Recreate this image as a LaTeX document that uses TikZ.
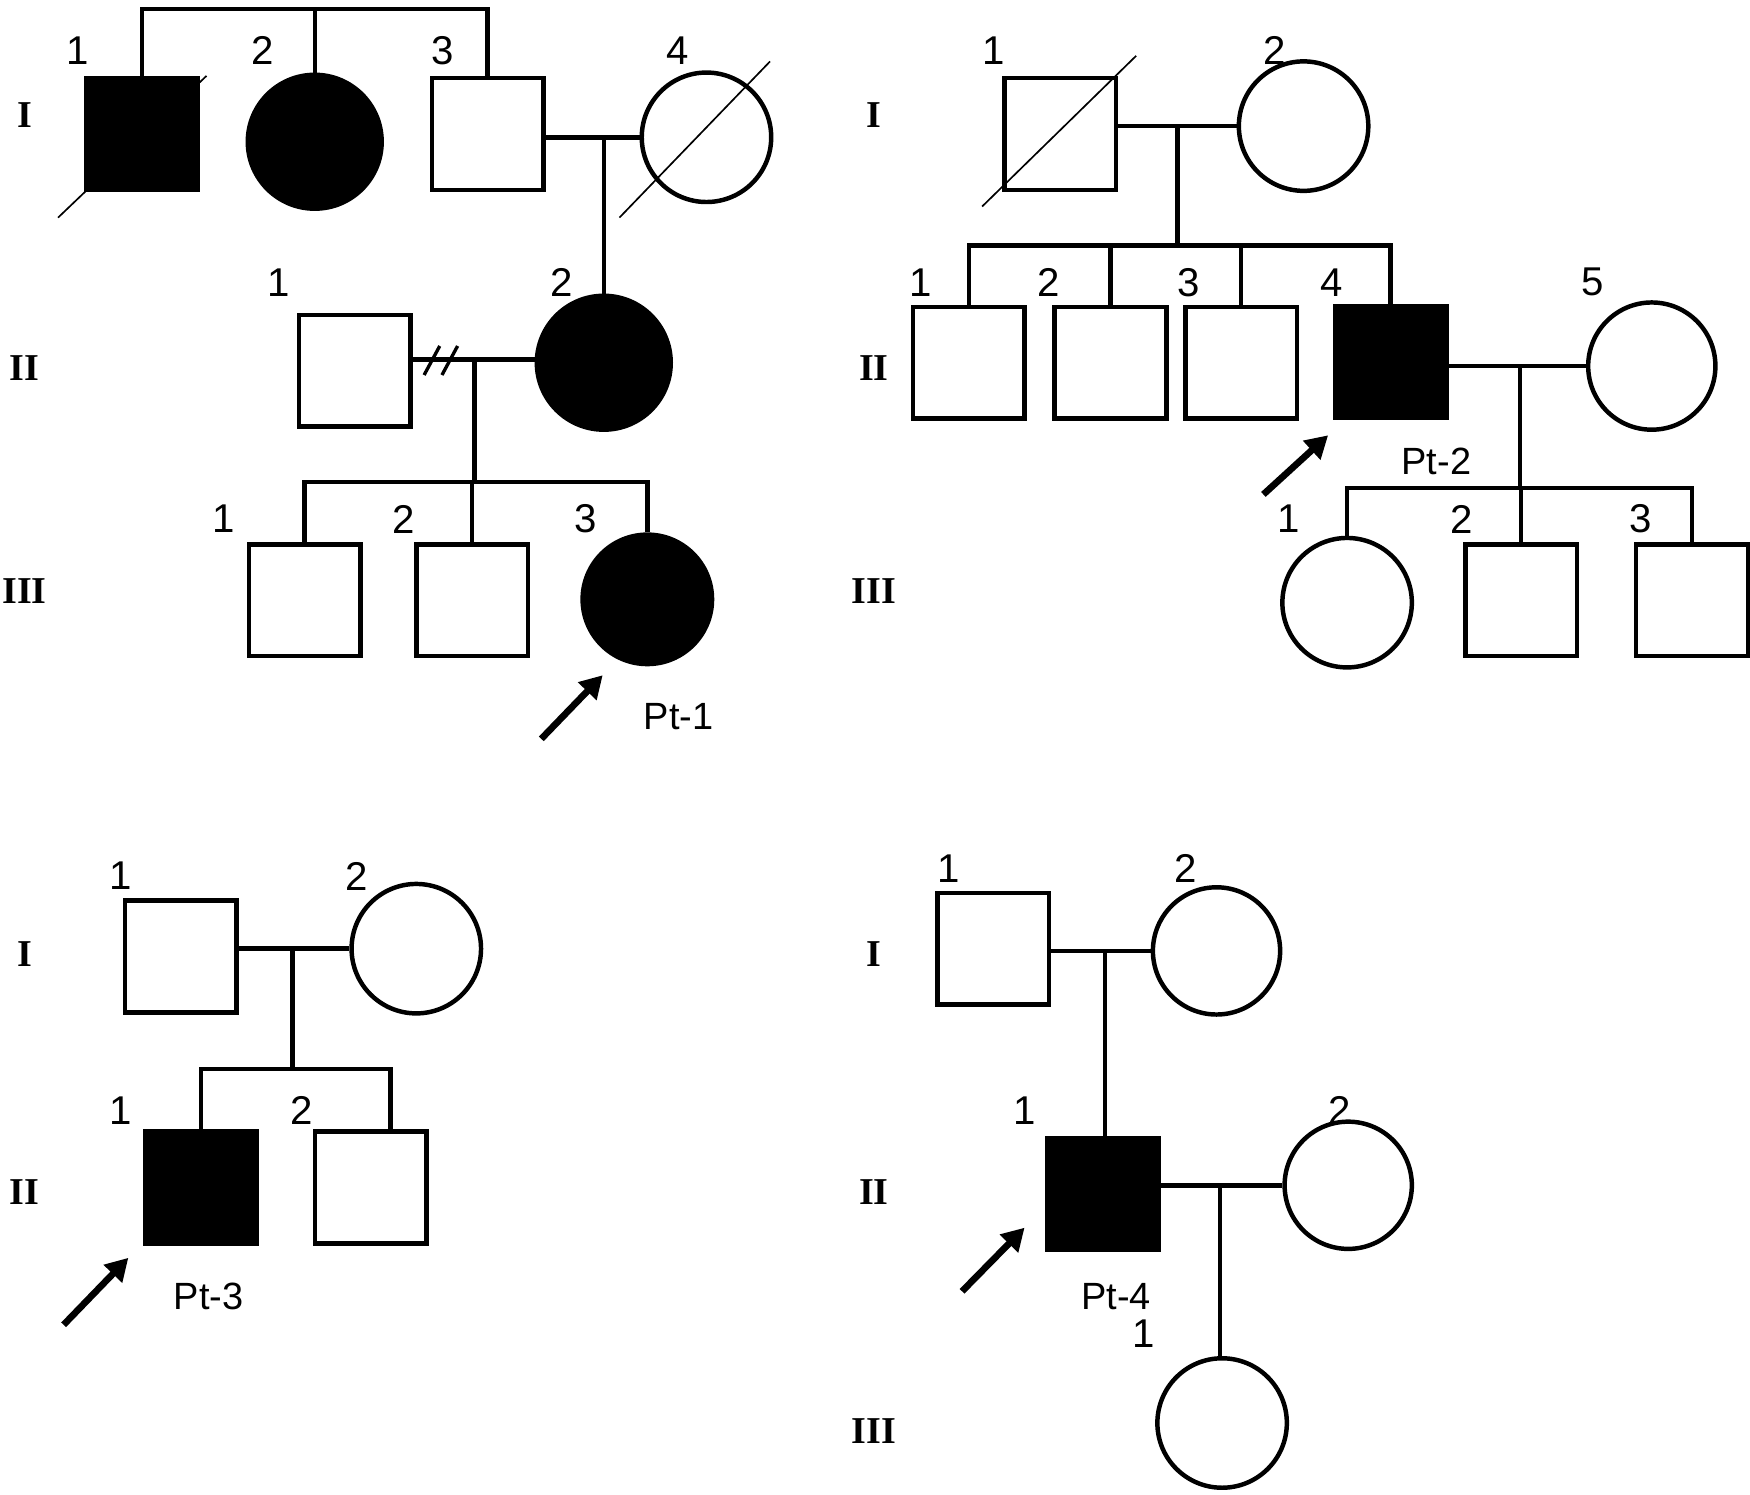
\documentclass[tikz,border=0pt]{standalone}
\usepackage{fontspec}
\setmainfont{Liberation Sans}
\newfontfamily\genfont{Liberation Serif}
\usetikzlibrary{arrows.meta}
\tikzset{
  sq/.style={draw,line width=4pt,rectangle,minimum size=100pt,inner sep=0pt,fill=white},
  ci/.style={draw,line width=4pt,circle,minimum size=#1,inner sep=0pt,fill=white},
  aff/.style={fill=black},
  ln/.style={line width=4pt},
  num/.style={font=\fontsize{36}{38}\selectfont,inner sep=0pt},
  pt/.style={font=\fontsize{34}{36}\selectfont,inner sep=0pt},
  gen/.style={font=\genfont\bfseries\fontsize{34}{36}\selectfont,inner sep=0pt},
  parrow/.style={line width=6pt,-{Triangle[length=20pt,width=22pt]}},
  slash/.style={line width=1.5pt}
}
\begin{document}
\begin{tikzpicture}[x=1pt,y=-1pt]
\useasboundingbox (0,0) rectangle (1568,1339);
% ===== Pedigree 1 =====
\node[sq,aff] (a11) at (127,120) {};
\node[ci=120pt,aff] (a12) at (282,127) {};
\node[sq] (a13) at (437,120) {};
\node[ci=116pt] (a14) at (633,123) {};
\coordinate (t1) at (282,8);
\draw[ln] (a11.north) |- (t1) -| (a13.north);
\draw[ln] (t1) -- (a12.north);
\draw[slash] (52,195) -- (185,68);
\draw[slash] (555,195) -- (690,55);
\draw[ln] (a13.east|-a14) -- (a14.west);
\node[sq] (a21) at (318,332) {};
\node[ci=120pt,aff] (a22) at (541,325) {};
\coordinate (m1) at (541,123);
\draw[ln] (m1) -- (a22.north);
\draw[ln] (a21.east|-0,322) -- (a22.west|-0,322);
\draw[line width=3pt] (380,336) -- (394,310) (396,336) -- (410,310);
\coordinate (m2) at (425,322);
\node[sq] (a31) at (273,538) {};
\node[sq] (a32) at (423,538) {};
\node[ci=116pt,aff] (a33) at (580,537) {};
\coordinate (s2) at (425,432);
\draw[ln] (m2) -- (s2);
\draw[ln] (a31.north) |- (s2) -| (a33.north);
\draw[ln] (a32.north) -- (a32.north|-s2);
\draw[parrow] (485,662) -- (540,605);
\node[pt] at (608,642) {Pt-1};
\node[num] at (70,45) {1}; \node[num] at (235,45) {2}; \node[num] at (397,45) {3}; \node[num] at (607,45) {4};
\node[num] at (250,253) {1}; \node[num] at (503,253) {2};
\node[num] at (200,465) {1}; \node[num] at (362,465) {2}; \node[num] at (525,465) {3};
\node[gen] at (22,103) {I}; \node[gen] at (22,330) {II}; \node[gen] at (22,530) {III};
% ===== Pedigree 2 =====
\node[sq] (b11) at (950,120) {};
\node[ci=116pt] (b12) at (1168,113) {};
\draw[slash] (880,185) -- (1018,50);
\draw[ln] (b11.east|-b12) -- (b12.west);
\coordinate (bm1) at (1055,113);
\coordinate (bs1) at (1055,220);
\draw[ln] (bm1) -- (bs1);
\node[sq] (b21) at (868,325) {};
\node[sq] (b22) at (995,325) {};
\node[sq] (b23) at (1112,325) {};
\node[sq,aff] (b24) at (1246,324) {};
\node[ci=114pt] (b25) at (1480,328) {};
\draw[ln] (b21.north) |- (bs1) -| (b24.north);
\draw[ln] (b22.north) -- (b22.north|-bs1);
\draw[ln] (b23.north) -- (b23.north|-bs1);
\draw[ln] (b24.east|-b25) -- (b25.west);
\coordinate (bm2) at (1362,328);
\coordinate (bs2) at (1362,437);
\draw[ln] (bm2) -- (bs2);
\node[ci=116pt] (b31) at (1207,540) {};
\node[sq] (b32) at (1363,538) {};
\node[sq] (b33) at (1516,538) {};
\draw[ln] (b31.north) |- (bs2) -| (b33.north);
\draw[ln] (b32.north) -- (b32.north|-bs2);
\draw[parrow] (1132,443) -- (1190,390);
\node[pt] at (1287,413) {Pt-2};
\node[num] at (890,45) {1}; \node[num] at (1142,45) {2};
\node[num] at (825,253) {1}; \node[num] at (940,253) {2}; \node[num] at (1065,253) {3}; \node[num] at (1193,253) {4}; \node[num] at (1427,253) {5};
\node[num] at (1155,465) {1}; \node[num] at (1310,465) {2}; \node[num] at (1470,465) {3};
\node[gen] at (783,103) {I}; \node[gen] at (783,330) {II}; \node[gen] at (783,530) {III};
% ===== Pedigree 3 =====
\node[sq] (c11) at (162,857) {};
\node[ci=116pt] (c12) at (373,850) {};
\draw[ln] (c11.east|-c12) -- (c12.west);
\coordinate (cm1) at (262,850);
\coordinate (cs1) at (262,958);
\draw[ln] (cm1) -- (cs1);
\node[sq,aff] (c21) at (180,1064) {};
\node[sq] (c22) at (332,1064) {};
\coordinate (cd2) at (350,958);
\draw[ln] (c21.north) |- (cs1) -- (cd2) -- (cd2|-c22.north);
\draw[parrow] (57,1187) -- (115,1127);
\node[pt] at (187,1162) {Pt-3};
\node[num] at (108,785) {1}; \node[num] at (320,785) {2};
\node[num] at (108,995) {1}; \node[num] at (270,995) {2};
\node[gen] at (22,855) {I}; \node[gen] at (22,1068) {II};
% ===== Pedigree 4 =====
\node[sq] (d11) at (890,850) {};
\node[ci=114pt] (d12) at (1090,852) {};
\draw[ln] (d11.east|-d12) -- (d12.west);
\node[sq,aff] (d21) at (988,1070) {};
\node[ci=114pt] (d22) at (1208,1062) {};
\coordinate (dm1) at (990,852);
\draw[ln] (dm1) -- (dm1|-d21.north);
\draw[ln] (d21.east|-d22) -- (d22.west);
\node[ci=116pt] (d31) at (1095,1275) {};
\coordinate (dm2) at (1093,1062);
\draw[ln] (dm2) -- (dm2|-d31.north);
\draw[parrow] (862,1157) -- (918,1100);
\node[pt] at (1000,1162) {Pt-4};
\node[num] at (850,778) {1}; \node[num] at (1062,778) {2};
\node[num] at (918,995) {1}; \node[num] at (1200,995) {2};
\node[num] at (1025,1195) {1};
\node[gen] at (783,855) {I}; \node[gen] at (783,1068) {II}; \node[gen] at (783,1282) {III};
\end{tikzpicture}
\end{document}
